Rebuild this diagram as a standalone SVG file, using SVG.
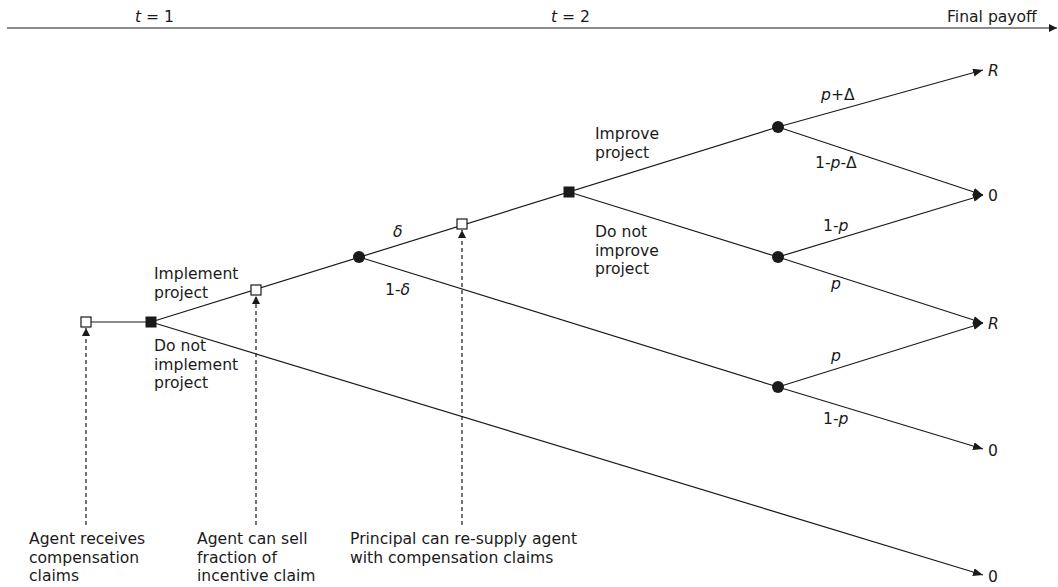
<svg xmlns="http://www.w3.org/2000/svg" width="1058" height="587" viewBox="0 0 1058 587">
<defs>
<marker id="ah" markerWidth="10" markerHeight="8" refX="10" refY="4" orient="auto" markerUnits="userSpaceOnUse">
<path d="M0,0 L10,4 L0,8 Z" fill="#1a1a1a"/>
</marker>
<marker id="ahs" markerWidth="8" markerHeight="8" refX="8" refY="4" orient="auto" markerUnits="userSpaceOnUse">
<path d="M0,0 L8,4 L0,8 Z" fill="#1a1a1a"/>
</marker>
</defs>
<style>
.e{stroke:#1a1a1a;stroke-width:1.2;fill:none}
.d{stroke:#1a1a1a;stroke-width:1.2;fill:none;stroke-dasharray:4,3}
.t{font-family:"DejaVu Sans",sans-serif;font-size:15.6px;fill:#1a1a1a}
.i{font-style:italic}
.os{fill:#fff;stroke:#1a1a1a;stroke-width:1.2}
.fs{fill:#1a1a1a}
</style>
<g id="timeline">
<line class="e" x1="7" y1="28" x2="1057" y2="28" marker-end="url(#ahs)"/>
<text class="t" x="135" y="22"><tspan class="i">t</tspan> = 1</text>
<text class="t" x="551" y="22"><tspan class="i">t</tspan> = 2</text>
<text class="t" x="947" y="22">Final payoff</text>
</g>
<g id="connectors">
<line class="e" x1="86" y1="322" x2="151" y2="322"/>
<line class="e" x1="151" y1="322" x2="778" y2="127"/>
<line class="e" x1="151" y1="322" x2="983" y2="575" marker-end="url(#ah)"/>
<line class="e" x1="359" y1="257" x2="778" y2="387"/>
<line class="e" x1="569" y1="192" x2="778" y2="257"/>
<line class="e" x1="778" y1="127" x2="983" y2="70" marker-end="url(#ah)"/>
<line class="e" x1="778" y1="127" x2="983" y2="195" marker-end="url(#ah)"/>
<line class="e" x1="778" y1="257" x2="983" y2="195" marker-end="url(#ah)"/>
<line class="e" x1="778" y1="257" x2="983" y2="323" marker-end="url(#ah)"/>
<line class="e" x1="778" y1="387" x2="983" y2="323" marker-end="url(#ah)"/>
<line class="e" x1="778" y1="387" x2="983" y2="449" marker-end="url(#ah)"/>
<line class="d" x1="86" y1="525" x2="86" y2="328" marker-end="url(#ahs)"/>
<line class="d" x1="256" y1="525" x2="256" y2="296" marker-end="url(#ahs)"/>
<line class="d" x1="462" y1="525" x2="462" y2="230" marker-end="url(#ahs)"/>
</g>
<g id="nodeA"><rect class="os" x="81" y="317" width="10" height="10"/></g>
<g id="nodeB"><rect class="fs" x="145.5" y="316.5" width="11" height="11"/></g>
<g id="nodeC"><rect class="os" x="251" y="285" width="10" height="10"/></g>
<g id="nodeD"><circle class="fs" cx="359" cy="257" r="6"/></g>
<g id="nodeE"><rect class="os" x="457" y="219" width="10" height="10"/></g>
<g id="nodeF"><rect class="fs" x="563.5" y="186.5" width="11" height="11"/></g>
<g id="nodeG"><circle class="fs" cx="778" cy="127" r="6"/></g>
<g id="nodeH"><circle class="fs" cx="778" cy="257" r="6"/></g>
<g id="nodeI"><circle class="fs" cx="778" cy="387" r="6"/></g>
<g id="labels">
<text class="t" x="154" y="279">Implement<tspan x="154" dy="18.5">project</tspan></text>
<text class="t" x="154" y="351">Do not<tspan x="154" dy="18.5">implement</tspan><tspan x="154" dy="18.5">project</tspan></text>
<text class="t i" x="393" y="237">δ</text>
<text class="t" x="385" y="295">1-<tspan class="i">δ</tspan></text>
<text class="t" x="595" y="139">Improve<tspan x="595" dy="18.5">project</tspan></text>
<text class="t" x="595" y="237">Do not<tspan x="595" dy="18.5">improve</tspan><tspan x="595" dy="18.5">project</tspan></text>
<text class="t" x="821" y="100"><tspan class="i">p</tspan>+Δ</text>
<text class="t" x="815" y="168">1-<tspan class="i">p</tspan>-Δ</text>
<text class="t" x="823" y="231">1-<tspan class="i">p</tspan></text>
<text class="t i" x="831" y="289">p</text>
<text class="t i" x="831" y="361">p</text>
<text class="t" x="823" y="424">1-<tspan class="i">p</tspan></text>
<text class="t i" x="988" y="76">R</text>
<text class="t" x="988" y="201">0</text>
<text class="t i" x="988" y="329">R</text>
<text class="t" x="988" y="456">0</text>
<text class="t" x="988" y="582">0</text>
<text class="t" x="29" y="544">Agent receives<tspan x="29" dy="18.5">compensation</tspan><tspan x="29" dy="18.5">claims</tspan></text>
<text class="t" x="197" y="544">Agent can sell<tspan x="197" dy="18.5">fraction of</tspan><tspan x="197" dy="18.5">incentive claim</tspan></text>
<text class="t" x="350" y="544">Principal can re-supply agent<tspan x="350" dy="18.5">with compensation claims</tspan></text>
</g>
</svg>
